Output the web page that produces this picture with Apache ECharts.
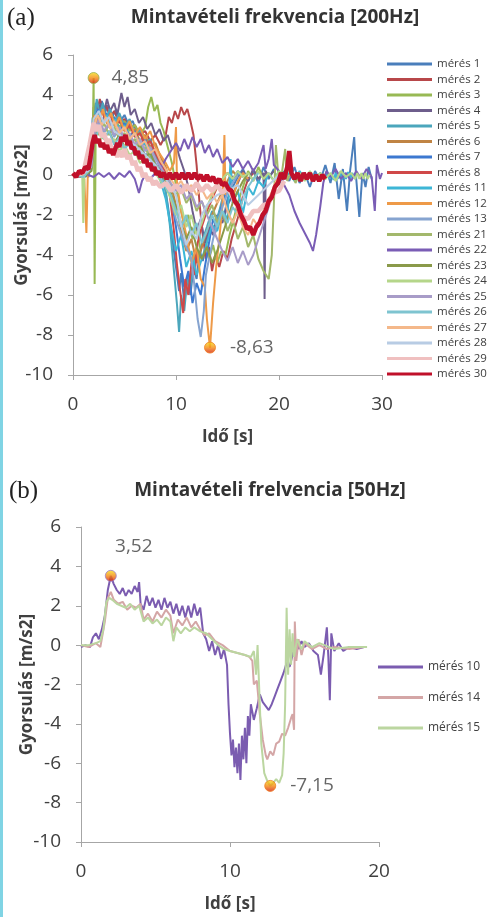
<!DOCTYPE html>
<html><head><meta charset="utf-8">
<script src="https://cdn.jsdelivr.net/npm/echarts@6/dist/echarts.min.js"></script>
<style>html,body{margin:0;padding:0;background:#fff}#c{width:491px;height:917px}</style>
</head><body><div id="c"></div>
<script>
// ---------- Chart (a): 200 Hz, time [s], acceleration [m/s2] ----------
const a1 = [[0,0],[0.6,0.1],[1.2,-0.1],[1.7,0.4],[1.9,2.8],[2.2,3.6],[2.5,3.0],[2.8,3.7],[3.1,3.1],[3.4,3.5],[3.8,2.9],[4.2,3.3],[4.6,2.7],[5,3.0],[5.4,2.5],[5.8,2.7],[6.2,2.1],[6.6,2.3],[7,1.8],[7.5,1.4],[8,1.0],[8.4,0.4],[8.8,-0.2],[9.2,-1.5],[9.6,-3.0],[10,-4.6],[10.3,-5.8],[10.5,-4.9],[10.8,-6.3],[11.1,-5.1],[11.4,-6.0],[11.7,-4.6],[12,-5.2],[12.3,-3.8],[12.6,-4.3],[13,-3.2],[13.4,-2.5],[13.8,-2.9],[14.2,-1.8],[14.6,-2.2],[15,-1.2],[15.5,-0.6],[16,-0.1],[16.5,0.3],[17,-0.3],[17.5,0.2],[18,-0.4],[18.5,0.4],[19,-0.2],[19.5,0.3],[20,-0.5],[20.5,0.2],[21,-0.3],[21.5,0.4],[22,-0.4],[22.5,0.1],[23,-0.6],[23.5,0.2],[24,-0.3],[24.5,0.5],[25,-0.4],[25.4,0.6],[25.8,-1.2],[26.2,0.3],[26.6,-1.8],[26.9,0.2],[27.3,1.9],[27.5,-0.2],[27.8,-2.1],[28.1,0.1],[28.4,-0.6],[28.7,0.4],[29,-0.2]];
const a2 = [[0,0],[0.7,0.1],[1.3,0],[1.8,0.8],[2.0,3.4],[2.3,3.0],[2.6,3.8],[2.9,3.2],[3.2,3.5],[3.6,2.9],[4,3.2],[4.5,2.6],[5,2.8],[5.5,2.3],[6,2.5],[6.5,2.0],[7,2.2],[7.5,1.7],[8,2.0],[8.5,1.5],[9,2.0],[9.3,2.9],[9.6,2.6],[9.9,3.2],[10.2,2.8],[10.5,3.4],[10.8,3.0],[11.1,3.3],[11.4,2.7],[11.7,2.0],[12,0.5],[12.3,-1.5],[12.6,-3.0],[12.9,-4.2],[13.2,-3.6],[13.5,-4.8],[13.8,-4.0],[14.2,-4.6],[14.6,-3.8],[15,-4.2],[15.4,-3.2],[15.8,-2.5],[16.2,-1.8],[16.6,-0.8],[17,-0.2],[17.5,0.1]];
const a3 = [[0,0],[0.5,0.1],[1,-0.1],[1.5,0.3],[1.9,1.2],[2.0,4.85],[2.05,0.5],[2.1,-5.45],[2.2,2.0],[2.4,3.0],[2.8,2.6],[3.2,3.1],[3.6,2.5],[4,2.9],[4.5,2.4],[5,2.7],[5.5,2.2],[6,2.5],[6.5,2.0],[7,2.4],[7.3,3.4],[7.6,3.9],[7.9,3.2],[8.2,3.5],[8.5,2.6],[8.8,2.2],[9.2,1.4],[9.6,0.6],[10,-0.5],[10.4,-1.6],[10.8,-2.5],[11.2,-2.0],[11.6,-3.2],[12,-2.6],[12.4,-3.8],[12.8,-3.0],[13.2,-4.2],[13.6,-3.5],[14,-4.4],[14.4,-3.8],[14.8,-4.0],[15.2,-3.0],[15.6,-2.2],[16,-1.4],[16.5,-0.6],[17,0.2],[17.5,-0.3],[18,0.4],[18.5,-0.2],[19,0.1]];
const a4 = [[0,0],[0.8,0.1],[1.5,-0.1],[2,1.5],[2.3,3.0],[2.7,3.6],[3.0,3.1],[3.3,3.8],[3.6,3.2],[4,3.6],[4.3,3.0],[4.7,4.1],[5,3.4],[5.3,3.9],[5.6,3.0],[6,3.3],[6.4,2.6],[6.8,2.9],[7.2,2.3],[7.6,2.6],[8,2.0],[8.4,2.3],[8.8,1.7],[9.2,2.0],[9.6,1.3],[10,1.5],[10.4,0.8],[10.8,0.2],[11.2,-0.6],[11.6,-1.8],[12,-2.8],[12.4,-2.2],[12.8,-3.4],[13.2,-2.6],[13.6,-3.0],[14,-2.0],[14.5,-2.4],[15,-1.5],[15.5,-1.0],[16,-0.4],[16.5,0.2],[17,-0.3],[17.5,0.3],[18,-0.2],[18.5,0.1],[18.6,-6.2],[18.7,0.2],[19,-0.1],[19.5,0.2]];
const a5 = [[0,0],[0.5,-0.1],[1,0.1],[1.6,0.5],[2,2.5],[2.3,3.8],[2.6,3.0],[2.9,3.6],[3.2,2.8],[3.6,3.3],[4,2.6],[4.5,3.1],[5,2.4],[5.5,2.8],[6,2.0],[6.5,2.3],[7,1.6],[7.5,1.8],[8,1.0],[8.5,0.4],[9,-0.8],[9.4,-2.5],[9.8,-4.8],[10.1,-6.5],[10.3,-7.85],[10.5,-6.0],[10.8,-6.8],[11.1,-5.2],[11.4,-5.6],[11.8,-4.0],[12.2,-4.4],[12.6,-3.2],[13,-2.6],[13.5,-1.8],[14,-2.2],[14.5,-1.2],[15,-0.6],[15.5,-0.2],[16,0.1]];
const a6 = [[0,0],[1,0.1],[1.8,0.6],[2.1,2.8],[2.5,2.3],[3,2.9],[3.5,2.4],[4,2.7],[4.5,2.1],[5,2.5],[5.5,1.9],[6,2.3],[6.5,1.7],[7,2.0],[7.5,1.4],[8,1.6],[8.5,0.9],[9,0.4],[9.5,-0.5],[10,-1.5],[10.5,-2.8],[11,-3.8],[11.5,-3.2],[12,-4.4],[12.5,-3.6],[13,-2.8],[13.5,-2.0],[14,-1.4],[14.5,-0.8],[15,-0.3],[15.5,0.2],[16,-0.1]];
const a7 = [[0,0],[1,-0.1],[1.7,0.3],[2,2.2],[2.4,3.3],[2.8,2.6],[3.2,3.1],[3.6,2.4],[4,2.9],[4.5,2.2],[5,2.6],[5.5,1.9],[6,2.2],[6.5,1.5],[7,1.8],[7.5,1.1],[8,1.3],[8.5,0.6],[9,0.1],[9.5,-1.0],[10,-2.6],[10.4,-4.2],[10.8,-5.6],[11.2,-4.8],[11.6,-6.4],[12,-5.4],[12.4,-6.0],[12.8,-4.6],[13.2,-3.4],[13.6,-2.2],[14,-2.6],[14.5,-1.4],[15,-0.7],[15.5,-0.2],[16,0.2],[16.5,-0.1]];
const a8 = [[0,0],[0.8,-0.1],[1.5,0.2],[1.9,1.5],[2.1,3.0],[2.4,2.6],[2.8,3.2],[3.2,2.7],[3.6,3.0],[4,2.5],[4.5,2.8],[5,2.2],[5.5,2.5],[6,1.9],[6.5,2.1],[7,1.5],[7.5,1.7],[8,1.1],[8.5,0.6],[9,0.1],[9.4,-1.0],[9.8,-2.8],[10.1,-4.5],[10.4,-5.8],[10.7,-6.9],[10.9,-5.2],[11.2,-6.0],[11.5,-4.4],[11.8,-5.0],[12.1,-3.4],[12.5,-2.6],[13,-1.8],[13.5,-1.2],[14,-0.6],[14.5,-0.2],[15,0.1],[15.5,-0.1]];
const a11 = [[0,0],[1,0.1],[1.8,0.4],[2.1,2.6],[2.5,3.2],[2.9,2.5],[3.3,3.0],[3.7,2.3],[4.1,2.8],[4.6,2.1],[5,2.5],[5.5,1.8],[6,2.1],[6.5,1.4],[7,1.6],[7.5,0.9],[8,0.5],[8.5,-0.3],[9,-1.2],[9.5,-2.6],[10,-3.8],[10.5,-3.0],[11,-4.6],[11.5,-3.8],[12,-5.0],[12.5,-4.2],[13,-3.4],[13.5,-2.5],[14,-2.8],[14.5,-1.8],[15,-2.2],[15.3,0.8],[15.5,-1.4],[16,-0.8],[16.5,-1.9],[17,-0.6],[17.5,-1.0],[18,-0.3],[18.5,-0.6],[19,0.1],[19.5,-0.3],[20,0.2],[20.5,-0.2],[21,0.1],[21.5,-0.3],[22,0.2],[22.5,-0.2],[23,0.1],[23.5,-0.2],[24,0.1],[24.5,-0.2],[24.7,0.1],[24.9,-0.2],[25.1,0.1],[25.3,-0.25],[25.5,0.1],[25.7,-0.2],[25.9,0.15],[26.1,-0.25],[26.3,0.1],[26.5,-0.2],[26.7,0.15],[26.9,-0.25],[27.1,0.1],[27.4,-0.2]];
const a12 = [[0,0],[0.6,0.1],[1.1,-0.2],[1.3,-2.9],[1.45,0.3],[1.8,1.5],[2.1,3.0],[2.5,2.4],[2.9,3.3],[3.3,2.6],[3.7,3.1],[4.1,2.4],[4.5,2.9],[5,2.2],[5.5,2.7],[6,2.0],[6.5,2.4],[7,1.8],[7.5,2.2],[8,1.4],[8.5,1.0],[9,0.6],[9.4,0.2],[9.8,0.6],[10,2.4],[10.1,-0.5],[10.5,-1.8],[11,-3.0],[11.5,-4.4],[12,-3.6],[12.4,-5.2],[12.8,-5.6],[13.0,-7.2],[13.3,-8.63],[13.6,-6.4],[13.9,-4.6],[14.2,-3.2],[14.5,-1.6],[14.7,2.0],[14.8,-1.0],[15.2,-0.6],[15.6,-1.0],[16,-0.3],[16.5,0.1],[17,-0.2]];
const a13 = [[0,0],[1,0.1],[1.8,0.3],[2.1,2.0],[2.5,2.6],[3,2.1],[3.5,2.5],[4,1.9],[4.5,2.3],[5,1.7],[5.5,2.0],[6,1.4],[6.5,1.6],[7,1.0],[7.5,1.2],[8,0.6],[8.5,0.2],[9,-0.4],[9.5,-1.2],[10,-2.2],[10.5,-3.0],[11,-3.6],[11.5,-4.2],[11.8,-5.6],[12.1,-7.2],[12.4,-8.1],[12.7,-6.8],[12.9,-5.0],[13.2,-4.2],[13.6,-3.2],[14,-2.4],[14.5,-1.6],[15,-0.9],[15.5,-0.4],[16,0]];
const a21 = [[0,0],[1,0.1],[1.8,0.5],[2.1,2.4],[2.5,2.0],[3,2.6],[3.5,2.0],[4,2.4],[4.5,1.8],[5,2.1],[5.5,1.5],[6,1.8],[6.5,1.2],[7,1.4],[7.5,0.8],[8,0.5],[8.5,0.2],[9,-0.2],[9.5,-0.6],[10,-1.0],[10.5,-0.7],[11,-1.4],[11.5,-1.0],[12,-1.8],[12.5,-1.3],[13,-2.0],[13.5,-1.5],[14,-2.4],[14.5,-1.8],[15,-2.8],[15.5,-2.2],[16,-3.2],[16.5,-2.6],[17,-3.6],[17.5,-3.0],[18,-4.2],[18.5,-4.8],[19,-5.2],[19.3,-4.0],[19.5,-1.5],[19.7,1.5],[19.9,0.2],[20.2,-0.2],[20.6,1.3],[20.8,-0.3],[21.2,0.2],[21.6,-0.4],[22,0.1]];
const a22 = [[0,0],[1,0.1],[2,-0.1],[2.5,0.1],[3,-0.1],[3.5,0.1],[4,-0.2],[4.5,0.1],[5,-0.1],[5.5,0.2],[6,-0.2],[6.4,-0.9],[6.7,-0.3],[7,0],[7.5,-0.2],[8,0.1],[8.5,0.3],[9,0.8],[9.5,1.2],[10,1.6],[10.4,1.2],[10.8,1.8],[11.2,1.3],[11.6,1.9],[12,1.4],[12.4,1.8],[12.8,1.1],[13.2,1.5],[13.6,0.9],[14,1.3],[14.5,0.6],[15,0.9],[15.5,0.4],[16,0.8],[16.5,0.3],[17,0.7],[17.5,0.2],[18,0.6],[18.5,1.5],[18.7,0.3],[19,0.8],[19.3,1.8],[19.5,0.5],[20,0.2],[20.5,-0.5],[21,-1.0],[21.5,-1.8],[22,-2.4],[22.5,-2.9],[23,-3.4],[23.3,-3.8],[23.6,-3.0],[24,-1.6],[24.3,-0.4],[24.6,0.2],[25,-0.1],[25.5,0.3],[26,-0.2],[26.5,0.1],[27,-0.3],[27.5,0.2],[28,-0.2],[28.5,0.3],[29,-0.1],[29.3,-1.8],[29.5,0.5],[29.8,-0.2],[30,0.1]];
const a23 = [[0,0],[1,-0.1],[1.8,0.2],[2.1,1.8],[2.5,2.3],[3,1.8],[3.5,2.2],[4,1.6],[4.5,2.0],[5,1.4],[5.5,1.8],[6,1.2],[6.5,1.5],[7,0.9],[7.5,1.1],[8,0.5],[8.5,0.1],[9,-0.3],[9.5,-0.9],[10,-1.6],[10.5,-2.4],[11,-3.2],[11.5,-2.6],[12,-3.6],[12.5,-4.2],[13,-3.6],[13.5,-4.4],[14,-3.8],[14.5,-3.0],[15,-2.2],[15.5,-1.4],[16,-0.8],[16.5,-0.3],[17,0.1]];
const a24 = [[0,0],[0.5,0.1],[0.9,-0.1],[1.0,-2.4],[1.1,0.2],[1.6,0.6],[2,2.0],[2.5,1.6],[3,2.1],[3.5,1.5],[4,1.8],[4.5,1.2],[5,1.5],[5.5,1.0],[6,1.2],[6.5,0.6],[7,0.8],[7.5,0.3],[8,0.1],[8.5,-0.3],[9,-0.6],[9.5,-1.2],[10,-2.0],[10.5,-1.5],[11,-2.6],[11.5,-2.0],[12,-3.0],[12.5,-2.4],[13,-1.6],[13.5,-1.0],[14,-0.6],[14.5,-0.2],[15,0.1],[15.5,-0.2],[16,0.2],[16.5,-0.1],[17,0.1],[17.5,-0.3],[18,0.2],[18.5,-0.2],[19,0.1],[19.5,-0.3],[20,0.2],[20.5,-0.1],[21,0.3],[21.5,-0.2],[22,0.1],[22.5,-0.3],[23,0.2],[23.5,-0.2],[24,0.1],[24.5,-0.2],[25,0.1],[25.5,-0.3],[26,0.2],[26.5,-0.1],[27,0.1],[27.4,-0.2],[27.6,0.1],[27.8,-0.2],[28,0.1],[28.2,-0.2],[28.4,0.1],[28.6,-0.2],[28.8,0]];
const a25 = [[0,0],[1,0.1],[1.8,0.4],[2.1,2.2],[2.5,2.8],[3,2.2],[3.5,2.6],[4,2.0],[4.5,2.4],[5,1.8],[5.5,2.1],[6,1.5],[6.5,1.8],[7,1.2],[7.5,1.4],[8,0.8],[8.5,0.4],[9,0],[9.5,-0.4],[10,-0.8],[10.5,-0.5],[11,-1.2],[11.5,-0.9],[12,-1.6],[12.5,-1.3],[13,-2.0],[13.5,-2.6],[14,-3.2],[14.5,-3.8],[15,-4.3],[15.5,-3.6],[16,-4.4],[16.5,-3.8],[17,-4.5],[17.5,-4.0],[18,-3.2],[18.5,-2.4],[19,-1.6],[19.5,-0.8],[20,-0.2],[20.5,0.1]];
const a26 = [[0,0],[1,-0.1],[1.5,0.2],[2,1.6],[2.5,2.3],[3,1.8],[3.5,2.2],[4,1.5],[4.5,1.9],[5,1.3],[5.5,1.6],[6,1.0],[6.5,1.2],[7,0.6],[7.5,0.8],[8,0.2],[8.5,-0.2],[9,-0.6],[9.5,-1.0],[10,-1.8],[10.5,-2.6],[11,-2.0],[11.5,-3.0],[12,-2.4],[12.5,-3.4],[13,-2.8],[13.5,-2.0],[14,-2.6],[14.5,-1.8],[15,-2.4],[15.5,-1.6],[16,-2.0],[16.5,-1.2],[17,-0.6],[17.5,-0.2],[18,0.1]];
const a27 = [[0,0],[1,0.1],[1.7,0.6],[2,2.4],[2.4,3.0],[2.8,2.5],[3.2,2.9],[3.6,2.3],[4,2.7],[4.5,2.1],[5,2.4],[5.5,1.8],[6,2.1],[6.5,1.5],[7,1.7],[7.5,1.1],[8,1.3],[8.5,0.7],[9,0.3],[9.5,-0.2],[10,-0.6],[10.5,-0.3],[11,-0.8],[11.5,-0.5],[12,-1.0],[12.5,-0.7],[13,-1.2],[13.5,-0.9],[14,-1.4],[14.5,-1.0],[15,-1.8],[15.5,-2.4],[16,-1.8],[16.5,-2.6],[17,-3.0],[17.5,-2.2],[18,-2.6],[18.5,-1.8],[19,-1.2],[19.5,-0.6],[20,0]];
const a28 = [[0,0],[1.5,0.2],[2,2.8],[2.5,3.2],[3,2.6],[3.5,2.9],[4,2.2],[5,1.8],[6,1.5],[7,1.0],[8,0.5],[9,-0.2],[10,-1.0],[10.5,-2.5],[11,-3.5],[11.5,-2.8],[12,-3.2],[12.5,-2.0],[13,-1.5],[14,-1.0],[15,-0.8],[16,-0.5],[17,-1.5],[18,-1.0],[19,-0.5],[20,0]];
const a29 = [[0,0],[1,0.1],[1.6,1.5],[2,2.6],[2.3,2.2],[2.5,2.5],[2.8,1.9],[3,2.1],[3.3,1.6],[3.5,1.8],[3.8,1.2],[4,1.4],[4.3,0.9],[4.5,1.2],[4.8,0.9],[5,1.3],[5.3,0.8],[5.5,1.0],[5.8,0.5],[6,0.7],[6.3,0.2],[6.5,0.4],[6.8,-0.1],[7,0.1],[7.3,-0.3],[7.5,-0.1],[7.8,-0.5],[8,-0.3],[8.5,-0.6],[9,-0.4],[9.5,-0.8],[10,-0.5],[10.5,-0.9],[11,-0.5],[11.5,-0.8],[12,-0.4],[12.5,-0.8],[13,-0.5],[13.5,-0.8],[14,-0.5],[14.5,-0.9],[15,-0.6],[15.5,-1.1],[16,-1.6],[16.5,-2.1],[17,-2.2],[17.5,-1.8],[18,-1.8],[18.5,-1.5],[19,-1.4],[19.5,-0.9],[20,-0.8],[20.5,-0.3]];
const a30 = [[0,0.1],[0.3,-0.1],[0.6,0.2],[0.9,0.1],[1.2,0.4],[1.5,0.3],[1.7,0.9],[1.9,1.6],[2.1,2.0],[2.3,1.6],[2.5,1.8],[2.7,1.4],[2.9,1.6],[3.1,1.3],[3.3,1.5],[3.5,1.1],[3.7,1.3],[3.9,1.0],[4.1,1.3],[4.3,1.6],[4.5,1.4],[4.7,1.9],[4.9,1.7],[5.1,2.0],[5.3,1.5],[5.5,1.7],[5.7,1.3],[5.9,1.4],[6.1,1.0],[6.3,1.2],[6.5,0.8],[6.7,1.0],[6.9,0.6],[7.1,0.8],[7.3,0.4],[7.5,0.6],[7.7,0.2],[7.9,0.4],[8.1,0.0],[8.3,0.2],[8.5,-0.1],[8.8,0.1],[9.1,-0.2],[9.4,0.1],[9.7,-0.2],[10,0.1],[10.3,-0.2],[10.6,0.1],[10.9,-0.2],[11.2,0.1],[11.5,-0.2],[11.8,0.1],[12.1,-0.2],[12.4,0.0],[12.7,-0.3],[13,0.0],[13.3,-0.3],[13.6,-0.1],[13.9,-0.4],[14.2,-0.2],[14.5,-0.5],[14.8,-0.4],[15.1,-0.7],[15.4,-0.8],[15.7,-1.3],[16,-1.5],[16.3,-2.0],[16.6,-2.3],[16.9,-2.7],[17.2,-2.6],[17.5,-3.0],[17.8,-2.6],[18.1,-2.4],[18.4,-2.0],[18.7,-1.8],[19,-1.3],[19.3,-1.1],[19.6,-0.6],[19.9,-0.4],[20.2,0.1],[20.5,-0.2],[20.8,0.4],[21.0,1.2],[21.2,0.1],[21.5,-0.2],[21.8,0.1],[22.1,-0.3],[22.4,0.1],[22.7,-0.2],[23,0.1],[23.3,-0.3],[23.6,0.0],[23.9,-0.3],[24.2,0.0],[24.5,-0.2]];
const namesA = ['mérés 1','mérés 2','mérés 3','mérés 4','mérés 5','mérés 6','mérés 7','mérés 8','mérés 11','mérés 12','mérés 13','mérés 21','mérés 22','mérés 23','mérés 24','mérés 25','mérés 26','mérés 27','mérés 28','mérés 29','mérés 30'];
const dataA = [a1,a2,a3,a4,a5,a6,a7,a8,a11,a12,a13,a21,a22,a23,a24,a25,a26,a27,a28,a29,a30];
const extremesA = [[2.0,4.85],[13.3,-8.63]];

// ---------- Chart (b): 50 Hz ----------
const b10 = [[0,-0.1],[0.3,0],[0.6,-0.1],[0.8,0.4],[1.0,0.6],[1.2,0.3],[1.4,0.8],[1.6,1.5],[1.8,2.8],[2.0,3.52],[2.2,3.1],[2.4,2.8],[2.6,2.6],[2.8,2.9],[3.0,2.5],[3.2,2.8],[3.4,2.6],[3.6,3.0],[3.8,2.7],[3.9,3.2],[4.0,2.1],[4.2,1.8],[4.4,2.5],[4.6,2.0],[4.8,2.4],[5.0,1.9],[5.2,2.3],[5.4,1.8],[5.6,2.4],[5.8,1.9],[6.0,2.2],[6.2,1.6],[6.4,2.1],[6.6,1.5],[6.8,2.0],[7.0,1.4],[7.2,2.0],[7.4,1.4],[7.6,2.1],[7.8,1.5],[8.0,1.9],[8.2,0.6],[8.4,0.3],[8.6,-0.3],[8.8,0.2],[9.0,-0.5],[9.2,0.0],[9.4,-0.7],[9.6,-0.2],[9.8,-1.0],[9.9,-3.0],[10.0,-4.5],[10.1,-5.6],[10.2,-4.8],[10.3,-6.2],[10.4,-5.2],[10.5,-6.5],[10.6,-5.0],[10.7,-6.85],[10.8,-4.6],[10.9,-5.8],[11.0,-4.2],[11.1,-6.0],[11.2,-3.6],[11.3,-4.6],[11.4,-3.0],[11.6,-3.8],[11.8,-3.2],[12.0,-2.5],[12.2,-2.9],[12.4,-3.1],[12.6,-3.3],[12.8,-3.0],[13.0,-2.6],[13.2,-2.2],[13.4,-1.8],[13.6,-1.4],[13.8,-0.9],[14.0,-1.1],[14.2,-0.5],[14.4,0.3],[14.6,-0.2],[14.8,0.2],[15.0,-0.1],[15.3,0.1],[15.6,-0.3],[15.9,-0.5],[16.1,-1.5],[16.3,-0.4],[16.5,0.9],[16.6,-0.6],[16.7,-2.8],[16.8,0.6],[17.0,-0.3],[17.3,0.1],[17.6,-0.3],[18,-0.1],[18.5,-0.2],[19,-0.1]];
const b14 = [[0,0],[0.5,-0.1],[1,0.1],[1.3,-0.1],[1.6,1.2],[1.8,2.4],[2.0,2.7],[2.2,2.3],[2.5,2.1],[2.8,2.2],[3.1,1.8],[3.4,2.0],[3.7,1.9],[4.0,2.1],[4.2,1.3],[4.5,1.6],[4.8,1.2],[5.1,1.7],[5.4,1.4],[5.7,1.8],[6.0,1.5],[6.2,0.6],[6.5,1.3],[6.8,1.0],[7.1,1.4],[7.4,0.9],[7.7,1.2],[8.0,0.8],[8.3,0.5],[8.6,0.6],[9.0,0.2],[9.5,0.0],[10,-0.3],[10.5,-0.4],[11,-0.5],[11.3,-0.6],[11.5,-0.8],[11.6,-2.0],[11.8,-1.8],[12.0,-3.5],[12.2,-4.8],[12.4,-5.6],[12.5,-5.8],[12.7,-5.4],[12.9,-5.6],[13.1,-5.0],[13.3,-4.9],[13.5,-4.5],[13.7,-4.6],[13.9,-4.2],[14.1,-3.7],[14.2,-3.5],[14.3,-4.3],[14.35,1.2],[14.45,-0.8],[14.6,0.3],[14.8,-0.5],[15,0.1],[15.5,-0.2],[16,0],[16.5,-0.2],[17,-0.1],[18,-0.2],[19,-0.1]];
const b15 = [[0,0],[0.5,0],[1,0.1],[1.3,0.2],[1.5,0.8],[1.7,2.2],[1.9,2.4],[2.1,2.3],[2.4,2.1],[2.7,2.0],[3.0,1.9],[3.3,2.1],[3.6,1.8],[3.9,2.0],[4.2,1.2],[4.5,1.4],[4.8,1.1],[5.1,1.3],[5.4,1.0],[5.7,1.4],[6.0,1.2],[6.2,0.2],[6.4,0.9],[6.7,0.6],[7.0,0.9],[7.3,0.7],[7.6,0.9],[8.0,0.7],[8.4,0.6],[8.8,0.3],[9.2,0.0],[9.6,-0.2],[10,-0.3],[10.5,-0.4],[11,-0.5],[11.4,-0.6],[11.6,-0.3],[11.75,-1.5],[11.85,0.0],[11.95,-2.0],[12.1,-5.0],[12.3,-6.5],[12.5,-6.9],[12.7,-7.15],[12.9,-7.0],[13.1,-6.8],[13.3,-7.0],[13.5,-6.6],[13.6,-5.5],[13.7,-3.0],[13.8,1.9],[13.9,-1.5],[14.0,0.8],[14.1,-1.0],[14.2,0.6],[14.3,-0.6],[14.5,0.3],[14.8,-0.2],[15,0.2],[15.5,-0.1],[16,0.1],[17,-0.2],[18,-0.1],[19.2,-0.1]];
const namesB = ['mérés 10','mérés 14','mérés 15'];
const dataB = [b10,b14,b15];
const extremesB = [[2.0,3.52],[12.7,-7.15]];

const yTicks = [-10,-8,-6,-4,-2,0,2,4,6];

// ---------- styles ----------
const colorsA = ['#4A7EBB','#B8474A','#98B954','#6E5E8C','#4BA6BC','#C08444','#3C78D0','#D04848','#3DB6D6','#EE9A48','#86A4D0','#A3B86C','#7A5DB5','#8A9A4A','#B5D68A','#A89CC8','#7EC4D0','#F4B88A','#B8CCE4','#F0C0C0','#C0102A'];
const widthsA = [2,2,2,2,2,2,2,2,2,2,2,2,2,2,2,2,2,2,2,4.5,4.5];
const colorsB = ['#7B5CB0','#D4A6A6','#BBD6A0'];
const FONT = 'Open Sans';
const TXT = '#404040';
const AX = '#A6A6A6';

function xAxisCfg(gi, max, gap){
  return {gridIndex:gi,type:'value',min:0,max:max,interval:10,
    name:'Idő [s]',nameLocation:'middle',nameGap:gap,nameMoveOverlap:false,
    nameTextStyle:{fontFamily:FONT,fontWeight:'bold',fontSize:17,color:TXT},
    axisLine:{show:true,onZero:false,lineStyle:{color:AX,width:1}},
    axisTick:{show:true,length:5,lineStyle:{color:AX}},
    splitLine:{show:false},
    axisLabel:{fontFamily:FONT,fontSize:19,color:TXT,margin:20}};
}
function yAxisCfg(gi, gap){
  return {gridIndex:gi,type:'value',min:yTicks[0],max:yTicks[yTicks.length-1],interval:2,
    name:'Gyorsulás [m/s2]',nameLocation:'middle',nameGap:gap,nameMoveOverlap:false,
    nameTextStyle:{fontFamily:FONT,fontWeight:'bold',fontSize:17,color:TXT},
    axisLine:{show:true,onZero:false,lineStyle:{color:AX,width:1}},
    axisTick:{show:true,length:5,lineStyle:{color:AX}},
    splitLine:{show:false},
    axisLabel:{fontFamily:FONT,fontSize:19,color:TXT,margin:20}};
}
const grad = {type:'linear',x:0,y:0,x2:0,y2:1,colorStops:[{offset:0,color:'#F4E61E'},{offset:0.5,color:'#F58A12'},{offset:1,color:'#D41A10'}]};
const fmt = p => p.value[1].toFixed(2).replace('.', ',');

const series = [];
dataA.forEach((d,i)=>series.push({name:namesA[i],type:'line',xAxisIndex:0,yAxisIndex:0,data:d,
  showSymbol:false,symbol:'none',color:colorsA[i],lineStyle:{width:widthsA[i],color:colorsA[i]},emphasis:{disabled:true},z:2+i*0.01}));
dataB.forEach((d,i)=>series.push({name:namesB[i],type:'line',xAxisIndex:1,yAxisIndex:1,data:d,
  showSymbol:false,symbol:'none',color:colorsB[i],lineStyle:{width:2,color:colorsB[i]},emphasis:{disabled:true},z:2+i*0.01}));
series.push({type:'scatter',xAxisIndex:0,yAxisIndex:0,z:10,symbolSize:11,
  itemStyle:{color:grad,borderColor:'#9AB050',borderWidth:1},
  data:[
    {value:extremesA[0],label:{show:true,position:'right',distance:12}},
    {value:extremesA[1],itemStyle:{borderColor:'#F08020'},label:{show:true,position:'right',distance:14}}
  ],
  label:{formatter:fmt,fontFamily:FONT,fontSize:19,color:TXT}});
series.push({type:'scatter',xAxisIndex:1,yAxisIndex:1,z:10,symbolSize:11,
  itemStyle:{color:grad,borderColor:'#A080C8',borderWidth:1},
  data:[
    {value:extremesB[0],label:{show:true,position:'top',distance:5,offset:[23,-9]}},
    {value:extremesB[1],itemStyle:{borderColor:'#F08020'},label:{show:true,position:'right',distance:14}}
  ],
  label:{formatter:fmt,fontFamily:FONT,fontSize:19,color:TXT}});

const option = {
  animation:false,
  backgroundColor:'#ffffff',
  grid:[
    {left:73,right:109,top:55,bottom:542,containLabel:false,outerBoundsMode:'none'},
    {left:81,right:112,top:527,bottom:75,containLabel:false,outerBoundsMode:'none'}
  ],
  xAxis:[xAxisCfg(0,30,54), xAxisCfg(1,20,54)],
  yAxis:[yAxisCfg(0,42), yAxisCfg(1,45)],
  legend:[
    {data:namesA,orient:'vertical',left:382,top:52.5,itemWidth:45,itemHeight:3,itemGap:2.5,icon:'rect',
     selectedMode:false,textStyle:{fontFamily:FONT,fontSize:11.5,color:TXT,lineHeight:13}},
    {data:namesB,orient:'vertical',left:373,top:655.5,itemWidth:45,itemHeight:3,itemGap:17.5,icon:'rect',
     selectedMode:false,textStyle:{fontFamily:FONT,fontSize:12,color:TXT,lineHeight:13}}
  ],
  graphic:[
    {type:'rect',left:0,top:0,shape:{width:3,height:917},style:{fill:'#80D4E4'}},
    {type:'text',x:7,y:18,style:{text:'(a)',font:'25px "Liberation Serif"',fill:'#222',textVerticalAlign:'middle'}},
    {type:'text',x:275,y:18,style:{text:'Mintavételi frekvencia [200Hz]',font:'bold 19px "Open Sans"',fill:'#333',textAlign:'center',textVerticalAlign:'middle'}},
    {type:'text',x:9,y:491,style:{text:'(b)',font:'25px "Liberation Serif"',fill:'#222',textVerticalAlign:'middle'}},
    {type:'text',x:270,y:491,style:{text:'Mintavételi frelvencia [50Hz]',font:'bold 19px "Open Sans"',fill:'#333',textAlign:'center',textVerticalAlign:'middle'}}
  ],
  series:series
};
const chart = echarts.init(document.getElementById('c'),null,{renderer:'canvas'});
chart.setOption(option);
</script>
</body></html>
